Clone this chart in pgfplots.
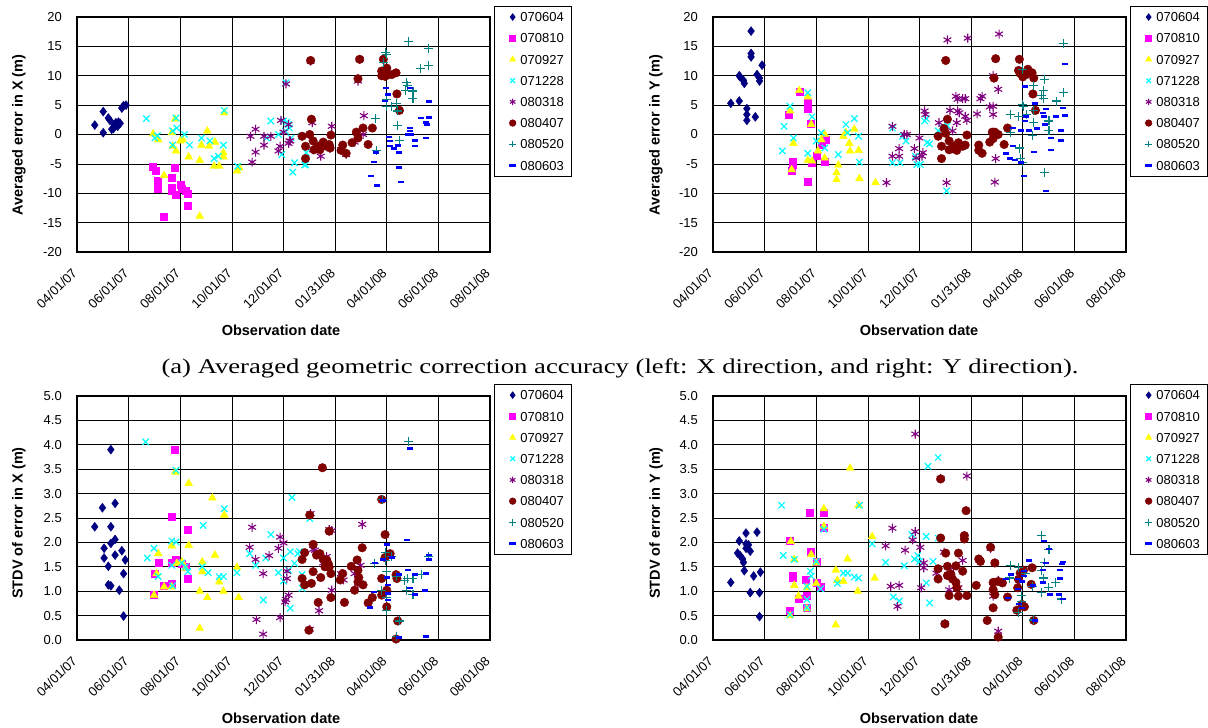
\documentclass[border=0pt]{standalone}
\usepackage{fontspec}
\setmainfont{Liberation Sans}
\newfontfamily\capfont[FakeStretch=1.27]{Liberation Serif}
\usepackage{pgfplots}
\pgfplotsset{compat=1.18}

\definecolor{c1}{HTML}{000080}
\definecolor{c2}{HTML}{FF00FF}
\definecolor{c3}{HTML}{FFFF00}
\definecolor{c4}{HTML}{00FFFF}
\definecolor{c5}{HTML}{800080}
\definecolor{c6}{HTML}{800000}
\definecolor{c7}{HTML}{008080}
\definecolor{c8}{HTML}{0000FF}

\pgfplotsset{
  s1/.style={only marks, color=c1, mark=diamond*, mark size=4.5pt},
  s2/.style={only marks, color=c2, mark=square*, mark size=3.5pt},
  s3/.style={only marks, color=c3, mark=triangle*, mark size=4.5pt},
  s4/.style={only marks, color=c4, mark=x, mark size=4.5pt, line width=1.2pt},
  s5/.style={only marks, color=c5, mark=asterisk, mark size=4.5pt, line width=1.1pt},
  s6/.style={only marks, color=c6, mark=*, mark size=4.3pt},
  s7/.style={only marks, color=c7, mark=+, mark size=4.5pt, line width=1.1pt},
  s8/.style={only marks, color=c8, mark=-, mark size=3pt, line width=2.5pt},
  panel/.style={
    scale only axis, width=413pt, anchor=south west,
    xmin=0, xmax=488,
    xtick={0,61,122,183,244,305,366,427,488},
    xticklabels={04/01/07,06/01/07,08/01/07,10/01/07,12/01/07,01/31/08,04/01/08,06/01/08,08/01/08},
    xticklabel style={font=\fontsize{13}{13}\selectfont, inner sep=0pt, xshift=-2.3pt, yshift=-18.5pt, rotate=45, anchor=east},
    yticklabel style={font=\fontsize{13}{13}\selectfont, inner sep=0pt, xshift=-15pt, anchor=east},
    /pgf/number format/assume math mode=true,
    grid=major, major grid style={black, line width=0.7pt},
    axis line style={black, line width=1.4pt},
    major tick length=0pt,
    clip=false,
    legend cell align=left,
    legend style={anchor=north west, draw=black, line width=0.8pt, fill=white,
      font=\fontsize{13}{13}\selectfont, inner xsep=8pt, inner ysep=6pt, row sep=11.8pt,
      nodes={inner sep=0pt, text height=9.4pt, text depth=0pt},
      /tikz/every odd column/.append style={column sep=2pt}},
    legend image post style={mark size=3.2pt},
    legend image code/.code={\draw[opacity=0] (0pt,0pt) -- (13.5pt,0pt); \draw[##1] plot coordinates {(9pt,0pt)};},
  },
  toppanel/.style={panel, height=235pt, ymin=-20, ymax=20, ytick={-20,-15,...,20},
    legend style={at={(1.0097,1.047)}}},
  botpanel/.style={panel, height=244pt, ymin=0, ymax=5, ytick={0,0.5,...,5},
    yticklabel style={/pgf/number format/.cd, fixed, fixed zerofill, precision=1},
    legend style={at={(1.0097,1.049)}}},
}

\begin{document}
\begin{tikzpicture}
\useasboundingbox (0,0) rectangle (1208pt,728pt);

% ---------------- top left: averaged error in X
\begin{axis}[toppanel, at={(77pt,476pt)}]
\addplot[s1] coordinates {(21,1.6) (31,3.9) (31,0.3) (37,2.8) (39,2.4) (41,0.9) (43,1.0) (44,1.7) (46,2.0) (48,1.4) (49,2.1) (51,1.9) (53,4.5) (55,4.9) (58,5.0)};
\addplot[s2] coordinates {(90,-5.4) (93,-6.1) (95,-7.9) (95,-9.2) (102,-14.0) (112,-7.3) (112,-9.0) (112,-9.5) (116,-5.7) (117,-10.3) (123,-8.5) (124,-9.2) (128,-9.5) (131,-10.1) (131,-12.2)};
\addplot[s3] coordinates {(90,0.1) (96,-0.9) (103,-7.0) (112,0.3) (113,-2.0) (116,2.6) (117,-2.8) (122,-1.1) (125,-0.9) (132,-3.8) (145,-4.4) (145,-13.9) (147,-1.8) (154,0.6) (156,-2.0) (162,-5.4) (163,-1.3) (168,-5.4) (173,-3.1) (173,-3.8) (174,3.7) (189,-6.2) (192,-5.7)};
\addplot[s4] coordinates {(82,2.7) (92,-0.6) (95,-0.2) (113,0.6) (113,-1.8) (117,2.8) (118,1.1) (127,0.0) (133,-1.8) (147,-0.6) (157,-1.1) (162,-4.1) (167,-3.7) (173,-1.8) (174,4.1) (190,-5.4) (224,-0.6) (229,2.3) (238,0.0) (242,-3.4) (244,2.3) (246,0.6) (247,8.8) (248,2.1) (250,1.7) (251,1.1) (253,-0.6) (255,-6.4) (257,-4.8) (265,-0.3) (269,-5.2) (270,-5.1) (271,-3.1)};
\addplot[s5] coordinates {(205,-0.3) (207,-4.7) (211,0.9) (211,-3.0) (221,-0.3) (221,-1.8) (229,-0.3) (238,-2.8) (240,-2.0) (241,2.4) (244,0.4) (247,8.6) (250,1.7) (251,-1.1) (250,-1.5) (252,-1.1) (276,12.5) (278,2.0) (279,-2.6) (288,-3.7) (299,-2.3) (301,1.4) (312,-2.6) (318,-3.4) (328,-1.3) (332,9.1) (334,12.8) (338,0.0) (339,3.2)};
\addplot[s6] coordinates {(266,-0.3) (270,-2.0) (270,-4.1) (275,0.0) (276,12.6) (277,2.6) (279,-1.1) (280,-2.6) (285,-2.0) (287,-2.6) (291,-1.3) (295,-2.0) (298,-1.7) (299,-2.3) (300,-0.1) (312,-2.7) (314,-1.8) (318,-3.2) (325,-1.4) (330,0.4) (332,-0.6) (332,9.5) (334,12.8) (338,1.1) (344,-1.7) (349,1.1) (360,10.0) (360,10.8) (362,12.8) (364,9.9) (366,11.3) (368,10.2) (372,10.2) (377,10.5) (378,6.9) (381,4.1)};
\addplot[s7] coordinates {(353,2.7) (354,-2.8) (362,12.2) (364,14.0) (366,13.6) (366,4.8) (366,6.0) (372,4.7) (377,5.3) (379,4.0) (379,1.6) (381,-1.0) (388,7.5) (389,8.9) (391,8.3) (392,15.9) (397,7.4) (397,6.2) (406,11.2) (415,14.6) (415,11.8)};
\addplot[s8] coordinates {(347,-7.1) (351,-4.7) (353,-3.1) (354,-8.7) (364,5.7) (365,7.9) (368,6.8) (369,-0.4) (370,-1.1) (370,-2.0) (374,-2.4) (379,-1.9) (381,-3.1) (381,-5.6) (383,-8.1) (391,0.0) (394,1.1) (394,0.6) (394,7.9) (395,0.0) (399,-1.0) (399,-2.0) (407,2.8) (412,2.0) (412,-0.6) (414,1.7) (416,2.9) (416,5.6)};
\legend{070604,070810,070927,071228,080318,080407,080520,080603}
\end{axis}

% ---------------- top right: averaged error in Y
\begin{axis}[toppanel, at={(713pt,476pt)}]
\addplot[s1] coordinates {(21,5.3) (31,5.7) (31,10.0) (32,9.8) (36,9.2) (37,8.7) (40,4.4) (40,3.4) (40,2.4) (45,17.6) (45,13.8) (45,13.2) (50,3.0) (52,10.2) (55,9.6) (55,9.1) (58,11.8)};
\addplot[s2] coordinates {(90,3.3) (93,-6.1) (94,-4.7) (94,-5.2) (102,7.3) (112,4.4) (112,5.4) (112,-8.1) (115,1.9) (117,-4.8) (123,-3.6) (129,-1.8) (132,-4.7) (133,-0.9)};
\addplot[s3] coordinates {(91,4.0) (93,-6.0) (95,-1.5) (102,7.5) (112,6.4) (112,-4.4) (116,1.7) (117,-4.5) (124,-2.8) (128,-0.9) (132,0.0) (132,-4.0) (146,-6.5) (146,-7.7) (148,-5.2) (154,-0.3) (157,0.3) (161,-1.5) (162,-2.8) (167,0.9) (172,-2.7) (173,-7.5) (192,-8.2)};
\addplot[s4] coordinates {(82,-2.8) (84,1.4) (91,4.8) (95,-0.6) (112,7.1) (112,-3.2) (117,3.0) (122,-1.1) (128,0.3) (132,-2.3) (148,-3.4) (157,1.7) (159,0.3) (167,2.7) (172,-0.3) (173,-4.7) (212,1.1) (212,-4.8) (221,-4.8) (224,-0.3) (228,-1.1) (239,-3.7) (241,-5.1) (245,-5.1) (250,2.3) (252,2.7) (253,-1.4) (256,-1.6) (266,0.6) (271,1.1) (276,-9.6) (277,1.5)};
\addplot[s5] coordinates {(205,-8.2) (212,1.4) (212,-3.7) (220,-2.4) (220,-3.7) (226,0.0) (229,0.0) (238,-2.4) (240,-4.0) (244,-0.6) (247,-3.7) (248,-3.1) (250,4.0) (251,3.4) (267,2.0) (276,-8.2) (277,16.1) (280,4.1) (283,0.6) (287,6.5) (288,2.0) (289,6.0) (289,4.0) (291,3.7) (295,6.1) (298,6.1) (298,3.1) (300,2.4) (301,16.4) (312,3.5) (316,6.1) (318,6.5) (327,4.7) (331,4.8) (331,3.4) (331,10.0) (333,-8.1) (334,-4.1) (337,7.7) (338,17.1)};
\addplot[s6] coordinates {(266,-0.3) (270,-2.0) (270,-4.1) (273,1.0) (275,0.2) (275,12.6) (277,2.6) (279,-1.1) (279,-2.6) (283,-2.4) (285,-2.0) (288,-2.7) (290,-1.4) (295,-2.0) (298,-1.8) (300,-0.1) (314,-1.8) (314,-2.7) (318,-3.2) (327,-1.3) (330,0.4) (331,-0.7) (332,9.6) (333,0.4) (334,12.9) (337,0.0) (344,-1.7) (348,1.1) (361,10.9) (362,12.8) (363,10.4) (366,9.8) (370,10.2) (372,11.1) (377,10.5) (378,6.9) (379,9.6) (381,4.1)};
\addplot[s7] coordinates {(352,3.4) (352,0.4) (361,3.1) (362,-2.3) (363,-4.1) (366,11.1) (366,5.1) (366,-4.7) (367,4.8) (370,3.4) (377,-0.2) (379,8.3) (379,4.1) (379,2.0) (388,6.7) (390,6.2) (391,7.5) (392,9.4) (392,-6.5) (397,2.3) (397,0.7) (406,5.7) (414,15.5) (414,7.2)};
\addplot[s8] coordinates {(346,-3.2) (351,-4.1) (354,1.1) (354,-2.0) (357,-4.3) (364,0.7) (364,-4.8) (367,-7.1) (369,8.2) (369,2.3) (370,3.1) (373,0.7) (379,-3.0) (380,5.3) (383,1.0) (390,3.7) (391,3.1) (392,1.7) (393,4.3) (394,-9.6) (399,-0.6) (399,-2.6) (405,3.1) (411,0.7) (411,-1.0) (413,4.5) (416,3.2) (416,12.0)};
\legend{070604,070810,070927,071228,080318,080407,080520,080603}
\end{axis}

% ---------------- bottom left: STDV of error in X
\begin{axis}[botpanel, at={(77pt,88pt)}]
\addplot[s1] coordinates {(21,2.32) (30,2.71) (32,1.88) (32,1.68) (37,1.51) (37,1.13) (40,1.11) (40,3.90) (40,2.32) (40,1.98) (45,2.80) (45,2.06) (45,1.74) (50,1.02) (53,1.83) (55,1.36) (57,1.64) (55,0.49)};
\addplot[s2] coordinates {(91,0.93) (92,1.36) (96,1.59) (102,1.11) (112,2.52) (112,1.15) (112,1.58) (115,3.89) (117,1.64) (124,1.56) (129,1.51) (131,2.25) (131,1.26)};
\addplot[s3] coordinates {(91,0.92) (94,1.36) (96,1.77) (103,1.09) (112,1.93) (112,1.09) (116,3.44) (118,1.57) (124,1.60) (128,1.47) (132,1.94) (132,3.21) (145,1.00) (145,0.24) (148,1.60) (148,1.40) (154,0.87) (160,2.91) (163,1.74) (168,1.19) (173,1.00) (174,2.56) (189,1.49) (191,0.87)};
\addplot[s4] coordinates {(81,4.06) (83,1.68) (91,1.88) (96,1.30) (112,2.03) (112,1.53) (113,1.11) (117,3.48) (117,2.01) (124,1.58) (128,1.50) (131,1.40) (148,1.50) (149,2.35) (155,1.38) (168,1.30) (173,1.30) (174,2.69) (189,1.38) (204,1.77) (211,1.53) (220,0.82) (223,1.68) (229,2.16) (238,1.38) (244,1.68) (244,1.21) (250,1.43) (252,1.81) (252,0.65) (254,2.92) (257,1.57) (261,1.77) (263,1.81) (266,1.06) (266,1.34) (275,2.49)};
\addplot[s5] coordinates {(204,1.90) (207,2.31) (211,1.65) (212,0.42) (220,1.36) (220,0.12) (227,1.73) (238,1.88) (240,0.46) (240,2.11) (244,1.99) (246,0.78) (247,0.83) (248,1.41) (248,1.26) (250,0.92) (276,2.59) (275,0.22) (279,1.86) (281,1.84) (286,0.60) (291,1.58) (295,1.71) (298,2.26) (301,2.24) (301,1.02) (312,1.36) (315,1.23) (328,1.36) (332,1.16) (335,1.53) (337,2.37)};
\addplot[s6] coordinates {(266,1.65) (266,1.26) (269,1.79) (269,1.13) (274,0.20) (275,2.56) (277,1.16) (279,1.96) (279,1.40) (283,1.74) (285,0.77) (287,1.77) (288,1.28) (290,3.53) (291,1.65) (293,1.50) (295,1.64) (297,1.56) (298,2.23) (298,1.49) (300,1.36) (300,0.87) (311,1.23) (314,1.36) (316,0.77) (324,1.51) (328,1.02) (331,1.64) (332,1.43) (332,1.19) (333,1.28) (337,1.89) (338,1.13) (344,0.76) (349,0.87) (360,2.88) (360,1.26) (360,0.92) (364,2.16) (364,1.69) (366,1.02) (366,0.68) (370,1.77) (377,1.34) (378,1.26) (379,0.39) (377,0.02)};
\addplot[s7] coordinates {(352,1.56) (360,1.01) (361,2.88) (365,1.79) (365,1.62) (366,1.40) (366,0.87) (366,0.61) (372,1.71) (377,1.30) (378,0.07) (381,0.39) (387,1.21) (389,1.02) (391,1.26) (392,4.06) (397,1.26) (397,0.94) (407,1.34) (415,1.71)};
\addplot[s8] coordinates {(346,0.67) (351,0.98) (352,1.58) (362,1.65) (362,2.86) (366,1.96) (366,1.28) (368,1.13) (368,0.95) (368,0.82) (372,1.69) (381,1.34) (381,0.05) (390,2.05) (391,1.43) (394,3.92) (394,1.07) (399,1.34) (399,0.93) (411,1.01) (412,1.36) (412,0.07) (416,1.74) (416,1.65)};
\legend{070604,070810,070927,071228,080318,080407,080520,080603}
\end{axis}

% ---------------- bottom right: STDV of error in Y
\begin{axis}[botpanel, at={(713pt,88pt)}]
\addplot[s1] coordinates {(21,1.18) (29,1.78) (31,2.03) (32,1.73) (35,1.66) (36,1.59) (37,1.42) (39,2.19) (39,1.97) (39,1.88) (42,1.95) (44,1.82) (44,0.97) (48,1.31) (52,2.21) (55,0.97) (55,0.48) (56,1.39)};
\addplot[s2] coordinates {(91,0.61) (91,2.04) (94,1.31) (94,1.27) (101,0.85) (110,1.24) (111,0.90) (111,0.66) (114,2.60) (115,1.80) (122,1.61) (122,1.18) (127,1.10) (131,2.60) (131,2.31)};
\addplot[s3] coordinates {(91,0.50) (92,2.02) (96,1.65) (96,1.12) (101,0.90) (111,1.07) (111,0.64) (116,1.75) (122,1.58) (122,1.16) (131,2.69) (131,2.33) (145,1.43) (145,0.31) (147,1.22) (154,1.20) (159,1.66) (162,3.52) (171,1.00) (172,2.76) (188,2.12) (191,1.27)};
\addplot[s4] coordinates {(81,2.76) (83,1.73) (91,0.52) (96,1.65) (111,0.66) (111,0.83) (111,1.10) (115,1.41) (116,1.31) (122,1.61) (127,1.05) (131,2.27) (147,1.16) (154,1.37) (159,1.37) (167,1.29) (172,1.27) (173,2.76) (188,1.97) (204,1.59) (213,0.88) (220,0.80) (226,1.52) (235,2.16) (238,1.66) (242,1.73) (244,1.61) (252,2.12) (252,1.17) (254,3.56) (256,0.76) (260,1.61) (266,3.74) (266,2.09) (274,0.33)};
\addplot[s5] coordinates {(204,1.93) (210,1.10) (212,2.29) (218,0.69) (220,1.12) (227,1.84) (236,2.05) (239,2.22) (239,4.22) (245,1.90) (246,1.07) (249,1.58) (249,1.48) (264,1.37) (269,3.31) (273,1.80) (274,0.33) (279,1.03) (284,1.48) (290,1.07) (295,1.63) (297,2.12) (300,3.36) (315,1.63) (328,1.88) (331,1.10) (331,0.90) (333,1.58) (337,1.22) (337,0.18)};
\addplot[s6] coordinates {(266,1.46) (266,1.25) (269,3.30) (269,2.09) (274,0.33) (275,1.78) (277,1.51) (277,1.32) (279,0.91) (281,1.35) (283,1.25) (287,1.52) (287,1.18) (288,1.07) (290,1.78) (290,0.90) (295,1.41) (297,2.14) (297,2.07) (299,2.65) (300,0.91) (311,1.12) (314,1.66) (316,1.61) (324,0.40) (328,1.90) (331,1.18) (331,0.66) (331,1.03) (333,1.58) (333,0.93) (337,1.20) (337,0.06) (342,1.17) (348,0.88) (359,0.61) (360,1.07) (361,1.24) (363,1.37) (365,0.73) (367,1.43) (368,0.68) (376,1.14) (377,1.48) (379,0.40)};
\addplot[s7] coordinates {(350,1.27) (352,1.52) (361,1.48) (361,0.56) (364,0.91) (365,0.78) (369,1.37) (377,1.10) (379,0.41) (388,2.14) (388,1.43) (388,0.98) (391,1.27) (392,1.58) (396,1.07) (397,1.86) (405,1.17) (412,0.84)};
\addplot[s8] coordinates {(346,1.25) (349,0.86) (352,1.34) (360,1.25) (360,1.05) (361,0.74) (365,1.20) (365,0.66) (367,1.41) (367,1.31) (373,1.63) (378,1.12) (381,0.40) (390,1.43) (390,1.18) (391,2.03) (393,1.58) (397,1.86) (398,0.93) (409,0.93) (410,1.43) (410,1.26) (412,1.56) (414,1.60) (414,0.84)};
\legend{070604,070810,070927,071228,080318,080407,080520,080603}
\end{axis}

% axis titles and caption
\begin{scope}[every node/.style={font=\bfseries\fontsize{14.5}{14.5}\selectfont}]
\node[rotate=90] at (19pt,593pt) {Averaged error in X (m)};
\node[rotate=90] at (656pt,593pt) {Averaged error in Y (m)};
\node[rotate=90] at (19pt,205pt) {STDV of error in X (m)};
\node[rotate=90] at (656pt,205pt) {STDV of error in Y (m)};
\node at (281pt,398pt) {Observation date};
\node at (919pt,398pt) {Observation date};
\node at (281pt,10pt) {Observation date};
\node at (919pt,10pt) {Observation date};
\end{scope}
\node[font=\capfont\fontsize{21}{21}\selectfont] at (620pt,360pt) {(a) Averaged geometric correction accuracy (left: X direction, and right: Y direction).};
\end{tikzpicture}
\end{document}
